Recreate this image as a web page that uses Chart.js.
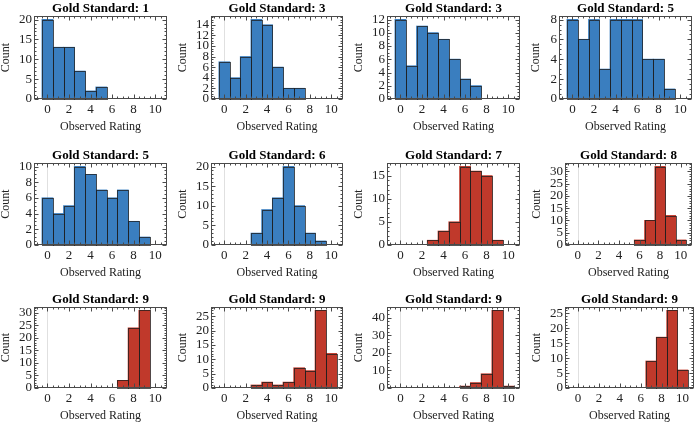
<!DOCTYPE html>
<html><head><meta charset="utf-8">
<script src="https://cdn.jsdelivr.net/npm/chart.js@4.4.1/dist/chart.umd.min.js"></script>
<style>
html,body{margin:0;padding:0;background:#fff;}
body{position:relative;width:700px;height:424px;overflow:hidden;}
canvas.p{position:absolute;}
</style></head><body>
<script>
// ---------- data ----------
const bins = [0,1,2,3,4,5,6,7,8,9,10];
const goldStandards = [1,3,3,5,5,6,7,8,9,9,9,9];
const counts1  = [20,13,13,7,2,3,0,0,0,0,0];
const counts2  = [7,4,8,15,14,6,2,2,0,0,0];
const counts3  = [12,5,11,10,9,6,3,2,0,0,0];
const counts4  = [8,6,8,3,8,8,8,4,4,1,0];
const counts5  = [6,4,5,10,9,7,6,7,3,1,0];
const counts6  = [0,0,0,3,9,12,20,10,3,1,0];
const counts7  = [0,0,0,1,3,5,17,16,15,1,0];
const counts8  = [0,0,0,0,0,0,2,10,32,12,2];
const counts9  = [0,0,0,0,0,0,0,3,24,31,0];
const counts10 = [0,0,0,1,2,1,2,7,6,27,12];
const counts11 = [0,0,0,0,0,0,1,3,8,44,1];
const counts12 = [0,0,0,0,0,0,0,9,17,26,6];
const allCounts = [counts1,counts2,counts3,counts4,counts5,counts6,counts7,counts8,counts9,counts10,counts11,counts12];
const xTickLabels = [0,2,4,6,8,10];
const yTickSteps = [5,2,2,2,2,5,5,5,5,5,10,5];
const xLabel = 'Observed Rating';
const yLabel = 'Count';

// ---------- layout / style ----------
const frameLeft  = [34,211,387,559, 34,211,387,565, 34,211,387,565];
const plotWidth  = [133,132,133,133, 133,132,133,127, 133,132,133,129];
const yAxisWidth = [34,34,34,29, 34,34,34,34, 34,34,34,34];
const rowFrameTop = [16,163,307];
const rowPlotH = [83,82,81];
const TITLE_H = 16, XAXIS_H = 35, PAD_R = 2;
const X_MIN = -1.25, X_MAX = 11.1;
const BLUE = '#3a7ebf', RED = '#c0392b';
const EDGE = 'rgba(30,30,30,0.75)';
const FONT = '"Liberation Serif", "Times New Roman", serif';

const framePlugin = {
  id: 'frame',
  beforeDatasetsDraw(chart) {
    const {ctx, chartArea: a, scales: {x}} = chart;
    const px = Math.round(x.getPixelForValue(0)) + 0.5;
    ctx.save();
    ctx.strokeStyle = 'rgba(0,0,0,0.12)';
    ctx.lineWidth = 1;
    ctx.beginPath(); ctx.moveTo(px, a.top); ctx.lineTo(px, a.bottom); ctx.stroke();
    ctx.restore();
  },
  afterDatasetsDraw(chart, args, opts) {
    const {ctx, chartArea: a, scales: {x, y}} = chart;
    ctx.save();
    // bar outlines from the bar elements laid out by Chart.js
    ctx.strokeStyle = EDGE;
    ctx.lineWidth = 1;
    chart.getDatasetMeta(0).data.forEach(el => {
      if (el.skip || el.y == null || isNaN(el.y) || Math.abs(el.base - el.y) < 0.5) return;
      const l = Math.round(el.x - el.width / 2) + 0.5;
      const r = Math.round(el.x + el.width / 2) + 0.5;
      const t = Math.round(el.y) + 0.5;
      const b = Math.round(el.base) + 0.5;
      ctx.strokeRect(l, t, r - l, b - t);
    });
    ctx.strokeStyle = '#4a4a4a';
    const L = a.left + 0.5, R = a.right - 0.5, T = a.top + 0.5, B = a.bottom - 0.5;
    ctx.beginPath();
    for (let v = -1; v <= 11.001; v += 0.5) {
      if (v < x.min || v > x.max) continue;
      const major = xTickLabels.includes(v);
      const len = major ? 4 : 2;
      const p = Math.round(x.getPixelForValue(v)) + 0.5;
      ctx.moveTo(p, B); ctx.lineTo(p, B - len);
      ctx.moveTo(p, T); ctx.lineTo(p, T + len);
    }
    const step = opts.yStep;
    const minor = step === 2 ? step / 4 : step / 5;
    for (let v = 0; v <= y.max + 1e-9; v += minor) {
      const major = Math.abs(v / step - Math.round(v / step)) < 1e-6;
      const len = major ? 4 : 2;
      const p = Math.round(y.getPixelForValue(v)) + 0.5;
      ctx.moveTo(L, p); ctx.lineTo(L + len, p);
      ctx.moveTo(R, p); ctx.lineTo(R - len, p);
    }
    ctx.stroke();
    ctx.strokeRect(L, T, R - L, B - T);
    ctx.restore();
  }
};

allCounts.forEach((counts, i) => {
  const row = Math.floor(i / 4);
  const yW = yAxisWidth[i];
  const w = yW + plotWidth[i] + PAD_R;
  const h = TITLE_H + rowPlotH[row] + XAXIS_H;
  const cv = document.createElement('canvas');
  cv.className = 'p';
  cv.width = w; cv.height = h;
  cv.style.width = w + 'px'; cv.style.height = h + 'px';
  cv.style.left = (frameLeft[i] - yW) + 'px';
  cv.style.top = (rowFrameTop[row] - TITLE_H) + 'px';
  document.body.appendChild(cv);
  const color = i < 6 ? BLUE : RED;
  const maxCount = Math.max(...counts);
  const step = yTickSteps[i];
  const yMax = maxCount * 1.045;
  new Chart(cv, {
    type: 'bar',
    data: {
      datasets: [{
        data: bins.map((b, k) => ({x: b, y: counts[k] || null})),
        backgroundColor: color,
        borderWidth: 0,
        barPercentage: 1,
        categoryPercentage: 1,
        inflateAmount: 0.5
      }]
    },
    options: {
      responsive: false,
      animation: false,
      devicePixelRatio: 1,
      layout: {padding: {left: 0, right: PAD_R, top: 0, bottom: 0}},
      plugins: {
        legend: {display: false},
        tooltip: {enabled: false},
        title: {
          display: true,
          fullSize: false,
          text: 'Gold Standard: ' + goldStandards[i],
          color: '#000',
          font: {family: FONT, size: 13, weight: 'bold', lineHeight: '14px'},
          padding: {top: 1.5, bottom: 0.5}
        },
        frame: {yStep: step}
      },
      scales: {
        x: {
          type: 'linear',
          offset: false,
          min: X_MIN, max: X_MAX,
          grid: {display: false, drawTicks: false, offset: false},
          border: {display: false},
          afterBuildTicks: s => { s.ticks = xTickLabels.map(v => ({value: v})); },
          afterFit: s => { s.height = XAXIS_H; },
          ticks: {color: '#222', font: {family: FONT, size: 13}, padding: 3, maxRotation: 0, autoSkip: false},
          title: {display: true, text: xLabel, color: '#222', font: {family: FONT, size: 12}, padding: {top: 0, bottom: 0}}
        },
        y: {
          type: 'linear',
          min: 0, max: yMax,
          grid: {display: false, drawTicks: false},
          border: {display: false},
          afterBuildTicks: s => {
            const t = [];
            for (let v = 0; v <= maxCount + 1e-9; v += step) t.push({value: v});
            s.ticks = t;
          },
          afterFit: s => { s.width = yW; },
          ticks: {color: '#222', font: {family: FONT, size: 13}, padding: 2, autoSkip: false},
          title: {display: true, text: yLabel, color: '#222', font: {family: FONT, size: 12, lineHeight: 1}, padding: {top: 0, bottom: 0}}
        }
      }
    },
    plugins: [framePlugin]
  });
});
</script>
</body></html>
